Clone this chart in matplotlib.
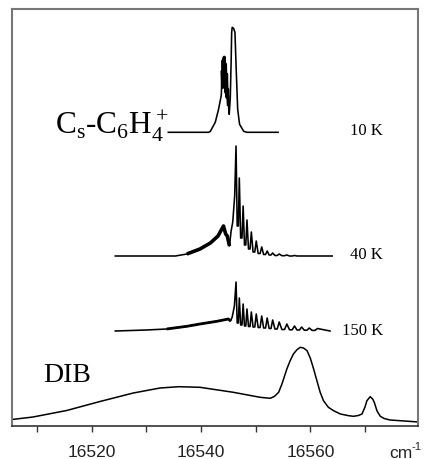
import numpy as np
import matplotlib.pyplot as plt

plt.rcParams['mathtext.fontset'] = 'custom'
plt.rcParams['mathtext.rm'] = 'Liberation Serif'
plt.rcParams['mathtext.default'] = 'regular'

# 10 K spectrum: wavenumber (cm-1) and height above its baseline
wn_10k = [16534.0, 16541.4, 16541.7, 16542.6, 16543.2, 16543.7, 16543.85, 16543.95,
          16544.05, 16544.15, 16544.25, 16544.35, 16544.45, 16544.55, 16544.65,
          16544.75, 16544.85, 16545.0, 16545.15, 16545.35, 16545.5, 16545.6,
          16545.7, 16545.95, 16546.2, 16546.45, 16546.7, 16547.05, 16547.8,
          16548.4, 16554.1]
int_10k = [0, 0, 1, 10, 23, 37, 60, 45, 72, 50, 75, 48, 68, 40, 58, 35, 43, 28,
           18, 35, 70, 100, 105, 104, 100, 60, 23, 8, 1, 0, 0]

# rotational lines (shared positions) for 40 K and 150 K
lines_wn = [16546.4, 16547.0, 16547.7, 16548.4, 16549.2, 16550.1, 16551.1, 16552.1,
            16553.1, 16554.3, 16555.7, 16557.1, 16558.4, 16559.8, 16561.3]

# 40 K: broad band before the lines, then line heights / valley heights
wn_40k_band = [16524.3, 16535.3, 16537.4, 16539.8, 16541.7, 16543.1, 16544.1,
               16544.5, 16544.8, 16545.2, 16545.5, 16545.8, 16546.15]
int_40k_band = [0, 0, 2, 7, 13, 20, 30, 22, 20, 10, 25, 34, 60]
lines_40k = [110, 78, 50, 36, 24, 15, 9, 5, 3, 2, 1, 0.5, 0, 0, 0]
gaps_40k = [30, 18, 11, 7, 4, 2.5, 1.5, 1, 0.5, 0.3, 0, 0, 0, 0]
end_40k = 16564.0

# 150 K
wn_150k_band = [16524.3, 16530.0, 16533.7, 16537.4, 16539.8, 16542.9, 16545.0,
                16545.4, 16545.7, 16546.1]
int_150k_band = [0, 1, 2, 4.7, 7, 9.7, 12, 10, 14, 25]
lines_150k = [49, 33, 27, 22, 19, 17, 15, 13, 11, 9, 7, 5, 4, 3, 2.5]
gaps_150k = [8, 6, 5, 4.5, 4, 3.5, 3, 2.5, 2, 1.5, 1.2, 1, 0.8, 0.6]
end_150k = 16563.6

# DIB profile
wn_dib = [16505.4, 16509.25, 16515.4, 16521.5, 16527.6, 16532.5, 16535.9, 16539.8,
          16545.9, 16550.8, 16552.65, 16553.4, 16554.2, 16554.8, 16555.7, 16556.3,
          16556.9, 16557.55, 16558.15, 16558.75, 16559.4, 16560.0, 16560.6, 16561.2,
          16561.8, 16562.4, 16563.3, 16564.25, 16565.5, 16567.0, 16567.9, 16568.8,
          16569.45, 16570.0, 16570.35, 16570.95, 16571.4, 16571.7, 16572.2, 16572.8,
          16573.5, 16574.6, 16579.8]
int_dib = [6.5, 9, 15.5, 24.5, 33, 38, 39.3, 38.7, 33.7, 28.7, 27.7, 29.5, 33.7,
           42, 57, 65.3, 72, 76.3, 78.7, 78, 75.3, 67.7, 57, 45.3, 33.7, 25.3, 18.7,
           15.3, 12, 10.3, 9.7, 10.5, 12, 19, 25.3, 29.3, 27, 23.7, 15, 9.7, 7.5, 6,
           4]

offsets = {'10': 293.7, '40': 170, '150': 95}


def line_series(band_wn, band_int, peaks, gaps, end):
    # spikes at the line positions, flat-ish valleys between them
    wn = list(band_wn)
    val = list(band_int)
    for i, p in enumerate(peaks):
        wn.append(lines_wn[i])
        val.append(p)
        if i < len(gaps):
            step = lines_wn[i + 1] - lines_wn[i]
            wn += [lines_wn[i] + 0.35 * step, lines_wn[i] + 0.7 * step]
            val += [gaps[i], gaps[i]]
    wn.append(end)
    val.append(0)
    return np.array(wn), np.array(val)


fig = plt.figure(figsize=(4.25, 4.6), dpi=100)
ax = fig.add_axes([12 / 425, 33 / 460, 406 / 425, 417 / 460])

lw = 1.15
w10 = np.array(wn_10k)
i10 = np.array(int_10k) + offsets['10']
ax.plot(w10, i10, color='black', lw=lw)
m = (w10 > 16543.75) & (w10 < 16545.05)
ax.plot(w10[m], i10[m], color='black', lw=2.4)

w40, i40 = line_series(wn_40k_band, int_40k_band, lines_40k, gaps_40k, end_40k)
ax.plot(w40, i40 + offsets['40'], color='black', lw=lw)
band = np.array(wn_40k_band)
m = (band > 16536.5) & (band < 16545.3)
ax.plot(band[m], np.array(int_40k_band)[m] + offsets['40'], color='black', lw=2.6,
        solid_capstyle='butt')

w150, i150 = line_series(wn_150k_band, int_150k_band, lines_150k, gaps_150k, end_150k)
ax.plot(w150, i150 + offsets['150'], color='black', lw=lw)
band = np.array(wn_150k_band)
m = (band > 16532) & (band < 16545.5)
ax.plot(band[m], np.array(int_150k_band)[m] + offsets['150'], color='black', lw=2.0,
        solid_capstyle='butt')

ax.plot(wn_dib, int_dib, color='black', lw=1.1)

ax.set_xlim(16505.4, 16579.7)
ax.set_ylim(0, 417)
ax.set_yticks([])
ax.set_xticks([16520, 16540, 16560])
ax.set_xticks([16510, 16530, 16550, 16570], minor=True)
ax.tick_params(axis='x', which='both', direction='out', length=4.5, width=1,
               color='#333333', pad=8.5, labelsize=12.5, labelcolor='#222222')
for lab in ax.get_xticklabels():
    lab.set_family('Liberation Sans')

for side in ['top', 'left', 'right']:
    ax.spines[side].set_color('#777777')
    ax.spines[side].set_linewidth(1.5)
ax.spines['bottom'].set_color('#333333')
ax.spines['bottom'].set_linewidth(1.2)

serif = 'Liberation Serif'
ax.text(16513.3, 292, 'C$_s$-C$_6$H$_4^+$', family=serif, fontsize=22.5,
        va='baseline', ha='left')
ax.text(16511.1, 45.3, 'DIB', family=serif, fontsize=20, va='baseline', ha='left')
ax.text(16573.35, 292, '10 K', family=serif, fontsize=12, va='baseline', ha='right')
ax.text(16573.35, 168, '40 K', family=serif, fontsize=12, va='baseline', ha='right')
ax.text(16573.35, 92, '150 K', family=serif, fontsize=12, va='baseline', ha='right')

fig.text(389 / 425, 2 / 460, 'cm', family='Liberation Sans', fontsize=12.5,
         color='#222222', va='baseline', ha='left')
fig.text(412 / 425, 10 / 460, '-1', family='Liberation Sans', fontsize=8,
         color='#222222', va='baseline', ha='left')

fig.savefig('out.png', dpi=100)
